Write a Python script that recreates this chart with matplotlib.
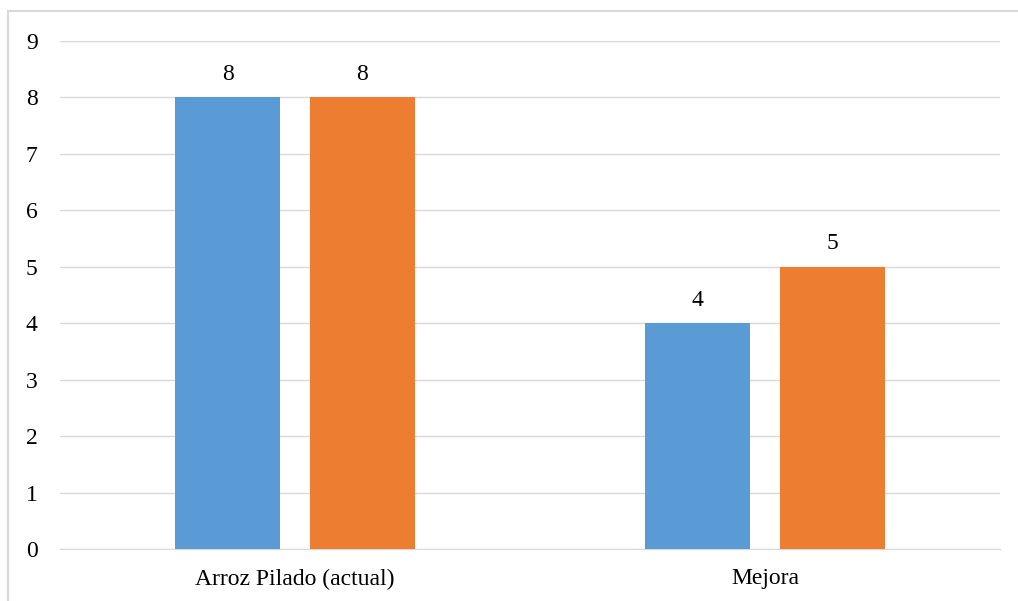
import matplotlib.pyplot as plt
import numpy as np
from matplotlib.lines import Line2D

# data
categorias = ["Arroz Pilado (actual)", "Mejora"]
serie_1 = [8, 4]
serie_2 = [8, 5]
y_ticks = list(range(0, 10))

plt.rcParams['font.family'] = ['Liberation Serif', 'DejaVu Serif']

W, H = 1018, 601
fig = plt.figure(figsize=(W/100, H/100), dpi=100)
ax = fig.add_axes([60/W, 1-549/H, 940/W, (549-41)/H])

x = np.arange(len(categorias))
ancho = 0.223
off = 0.143
b1 = ax.bar(x - off, serie_1, ancho, color='#5B9BD5', zorder=3)
b2 = ax.bar(x + off, serie_2, ancho, color='#ED7D31', zorder=3)

#value labels on top of each bar
for barras in (b1, b2):
    for b in barras:
        ax.annotate(f"{b.get_height():g}", (b.get_x() + b.get_width()/2, b.get_height()),
                    xytext=(0, 9), textcoords='offset points', ha='center', va='bottom',
                    fontsize=17, color='#000000')

ax.set_xlim(-0.5, 1.5)
ax.set_ylim(0, 9)
ax.set_yticks(y_ticks)
ax.set_xticks(x)
ax.set_xticklabels(categorias)
ax.tick_params(axis='both', length=0, labelsize=17, colors='#000000')
ax.tick_params(axis='y', pad=24.5)
ax.tick_params(axis='x', pad=14)
for lbl in ax.get_yticklabels():
    lbl.set_horizontalalignment('left')
ax.grid(axis='y', color='#D9D9D9', linewidth=1, zorder=0)
for s in ['top', 'right', 'left']:
    ax.spines[s].set_visible(False)
ax.spines['bottom'].set_color('#D9D9D9')

#border lines at top and left of the figure
fig.lines.append(Line2D([8/W, 8/W], [0, 1-11/H], transform=fig.transFigure,
                        color='#D9D9D9', linewidth=1.5))
fig.lines.append(Line2D([8/W, 1], [1-11/H, 1-11/H], transform=fig.transFigure,
                        color='#D9D9D9', linewidth=1.5))

fig.savefig('out.png', dpi=100)
